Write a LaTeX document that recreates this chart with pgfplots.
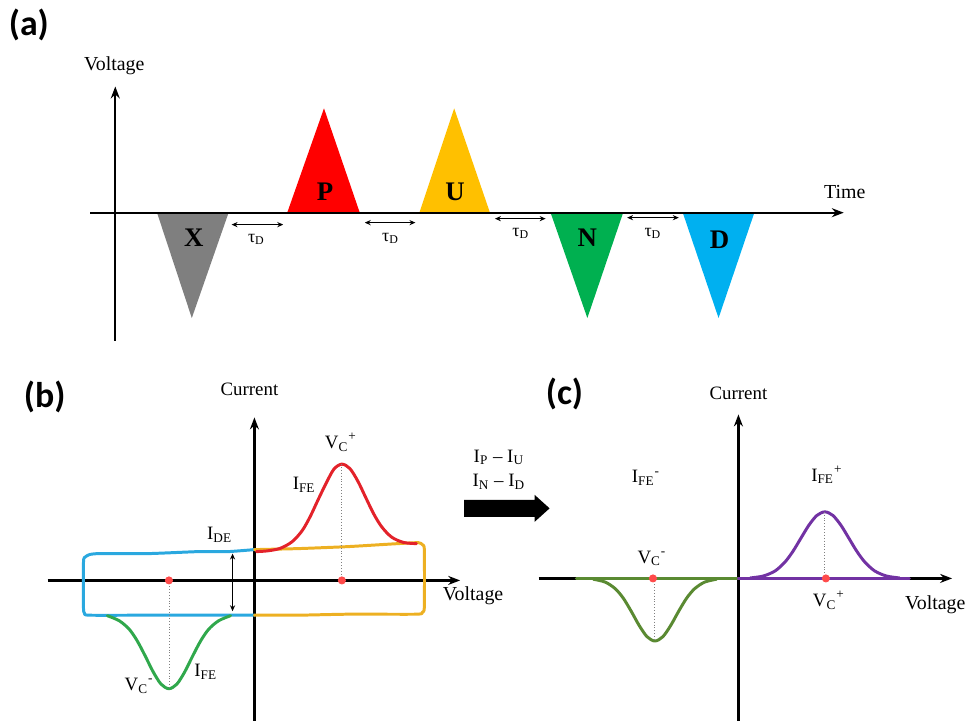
\documentclass[border=0pt]{standalone}
\usepackage{fontspec}
\setmainfont{Liberation Serif}
\newfontfamily\calibri{Carlito}
\usepackage{pgfplots}
\pgfplotsset{compat=1.18}
\usetikzlibrary{arrows.meta}

\definecolor{pgray}{HTML}{7F7F7F}
\definecolor{pred}{HTML}{FF0000}
\definecolor{pyellow}{HTML}{FFC000}
\definecolor{pgreen}{HTML}{00B050}
\definecolor{pblue}{HTML}{00B0F0}
\definecolor{loopblue}{HTML}{2AA8DF}
\definecolor{loopyellow}{HTML}{EDB022}
\definecolor{peakred}{HTML}{E3222A}
\definecolor{troughgreen}{HTML}{30A84C}
\definecolor{olive}{HTML}{5A8A32}
\definecolor{ppurple}{HTML}{7232A3}
\definecolor{dotred}{HTML}{FF4A4A}

\newcommand{\panel}[1]{\calibri\bfseries\fontsize{18}{20}\selectfont #1}
\tikzset{lbl/.style={font=\fontsize{9.5}{11}\selectfont}}
\newcommand{\tauD}{{\fontsize{9}{10}\selectfont τ\textsubscript{D}}}

\begin{document}
\begin{tikzpicture}
\begin{axis}[
  scale only axis, width=486pt, height=365pt,
  xmin=0, xmax=972, ymin=0, ymax=730, y dir=reverse,
  hide axis, clip=false,
  axisline/.style={black, line width=1.1pt, -{Stealth[length=6pt,width=4.5pt]}},
  gap/.style={black, line width=0.5pt, {Stealth[length=3pt,width=2.6pt]}-{Stealth[length=3pt,width=2.6pt]}},
  curve/.style={line width=1.5pt, line join=round, line cap=round},
  guide/.style={gray, densely dotted, line width=0.45pt},
]
% page frame
\addplot[draw=none, forget plot] coordinates {(0,0) (972,730)};

% ---------------- (a) PUND pulse train ----------------
\addplot[fill=pgray, draw=none] coordinates {(158,214) (230,214) (193,320)} -- cycle;
\addplot[fill=pred, draw=none] coordinates {(289,214) (362,214) (326,109)} -- cycle;
\addplot[fill=pyellow, draw=none] coordinates {(422,214) (493,214) (457,109)} -- cycle;
\addplot[fill=pgreen, draw=none] coordinates {(554,214) (627,214) (591,320)} -- cycle;
\addplot[fill=pblue, draw=none] coordinates {(687,214) (759,214) (723,320)} -- cycle;

\addplot[axisline] coordinates {(91,214) (849,214)};
\addplot[axisline] coordinates {(116,343) (116,87)};

\addplot[gap] coordinates {(233,226) (285,226)};
\addplot[gap] coordinates {(367,224) (418,224)};
\addplot[gap] coordinates {(498,220) (549,220)};
\addplot[gap] coordinates {(631,219) (683,219)};

\node at (axis cs:258,241) {\tauD};
\node at (axis cs:393,240) {\tauD};
\node at (axis cs:524,235) {\tauD};
\node at (axis cs:657,235) {\tauD};

\node[font=\bfseries\fontsize{13.5}{15}\selectfont] at (axis cs:195,239) {X};
\node[font=\bfseries\fontsize{13.5}{15}\selectfont] at (axis cs:327,193) {P};
\node[font=\bfseries\fontsize{13.5}{15}\selectfont] at (axis cs:458,193) {U};
\node[font=\bfseries\fontsize{13.5}{15}\selectfont] at (axis cs:591,239) {N};
\node[font=\bfseries\fontsize{13.5}{15}\selectfont] at (axis cs:724,241) {D};

\node[font=\fontsize{10}{12}\selectfont] at (axis cs:115,66) {Voltage};
\node[font=\fontsize{10}{12}\selectfont] at (axis cs:850,193) {Time};
\node at (axis cs:29,25) {\panel{(a)}};

% ---------------- (b) I-V loop ----------------
\addplot[axisline] coordinates {(48,584) (463,584)};
\addplot[axisline] coordinates {(256,725) (256,420)};

% dielectric loop, negative side
\addplot[curve, loopblue, smooth, tension=0.3] coordinates {
  (256,553) (230,555) (200,555) (150,557) (100,557) (90,558)
  (85,561) (84,566) (84,612) (85,617) (89,619) (150,619) (200,619) (256,619)};
% dielectric loop, positive side
\addplot[curve, loopyellow, smooth, tension=0.3] coordinates {
  (256,553) (300,552) (350,550) (400,547) (421,546) (425,548)
  (427,553) (427,611) (425,616) (420,618) (350,618) (300,619) (256,619)};
% switching peak, positive sweep
\addplot[curve, peakred, smooth] coordinates {
  (258,555) (269,554.3) (282,551.7) (294,545) (304,534) (312,520)
  (320,503) (328,486.5) (336,472) (344,467) (352,471.4) (360,484)
  (368,500.6) (376,517) (384,530) (394,540.4) (406,545.8) (419,547)};
% switching trough, negative sweep
\addplot[curve, troughgreen, smooth] coordinates {
  (108,619.5) (120,624.6) (130,633.1) (138,644.7) (146,659.8) (154,675.8)
  (162,688.3) (170,693) (178,688.3) (186,675.8) (194,659.8) (202,644.7)
  (210,633.1) (220,624.6) (232,619.5)};

\addplot[guide] coordinates {(344,467) (344,584)};
\addplot[guide] coordinates {(170,584) (170,693)};
\addplot[only marks, mark=*, mark size=1.8pt, color=dotred] coordinates {(170,584) (344,584)};

\addplot[black, line width=0.5pt, {Stealth[length=3pt,width=2.6pt]}-{Stealth[length=3pt,width=2.6pt]}]
  coordinates {(234,557) (234,615)};

\node[lbl] at (axis cs:251,392) {Current};
\node[font=\fontsize{10}{12}\selectfont] at (axis cs:476,599) {Voltage};
\node[lbl] at (axis cs:343,445) {V\textsubscript{C}\textsuperscript{+}};
\node[lbl] at (axis cs:306,488) {I\textsubscript{FE}};
\node[lbl] at (axis cs:140,690) {V\textsubscript{C}\textsuperscript{-}};
\node[lbl] at (axis cs:207,676) {I\textsubscript{FE}};
\node[lbl] at (axis cs:221,538) {I\textsubscript{DE}};
\node at (axis cs:45,399) {\panel{(b)}};

% ---------------- transfer arrow ----------------
\node[lbl] at (axis cs:502,460) {I\textsubscript{P} – I\textsubscript{U}};
\node[lbl] at (axis cs:502,485) {I\textsubscript{N} – I\textsubscript{D}};
\addplot[fill=black, draw=none] coordinates {
  (467,503) (538,503) (538,498) (553,511.5) (538,525) (538,520) (467,520)} -- cycle;

% ---------------- (c) extracted switching current ----------------
\addplot[axisline] coordinates {(542,582) (958,582)};
\addplot[axisline] coordinates {(743,725) (743,417)};

\addplot[curve, olive] coordinates {(580,582) (743,582)};
\addplot[curve, olive, smooth] coordinates {
  (597,582.8) (609,585.7) (619,592.3) (627,601.7) (635,614.8) (643,629.1)
  (651,640.6) (659,645) (667,640.6) (675,629.1) (683,614.8) (691,601.7)
  (699,592.3) (709,585.7) (721,582.8)};
\addplot[curve, ppurple] coordinates {(743,582) (915,582)};
\addplot[curve, ppurple, smooth] coordinates {
  (755,581.5) (768,579.6) (780,574.4) (790,565.3) (798,554.5) (806,541.3)
  (814,528.3) (822,518.6) (830,515) (838,518.6) (846,528.3) (854,541.3)
  (862,554.5) (870,565.3) (880,574.4) (892,579.6) (905,581.5)};

\addplot[guide] coordinates {(659,582) (659,645)};
\addplot[guide] coordinates {(830,515) (830,582)};
\addplot[only marks, mark=*, mark size=1.8pt, color=dotred] coordinates {(657,582) (831,582)};

\node[lbl] at (axis cs:743,396) {Current};
\node[font=\fontsize{10}{12}\selectfont] at (axis cs:941,608) {Voltage};
\node[lbl] at (axis cs:656,562) {V\textsubscript{C}\textsuperscript{-}};
\node[lbl] at (axis cs:650,481) {I\textsubscript{FE}\textsuperscript{-}};
\node[lbl] at (axis cs:832,478) {I\textsubscript{FE}\textsuperscript{+}};
\node[lbl] at (axis cs:834,604) {V\textsubscript{C}\textsuperscript{+}};
\node at (axis cs:568,396) {\panel{(c)}};
\end{axis}
\end{tikzpicture}
\end{document}
